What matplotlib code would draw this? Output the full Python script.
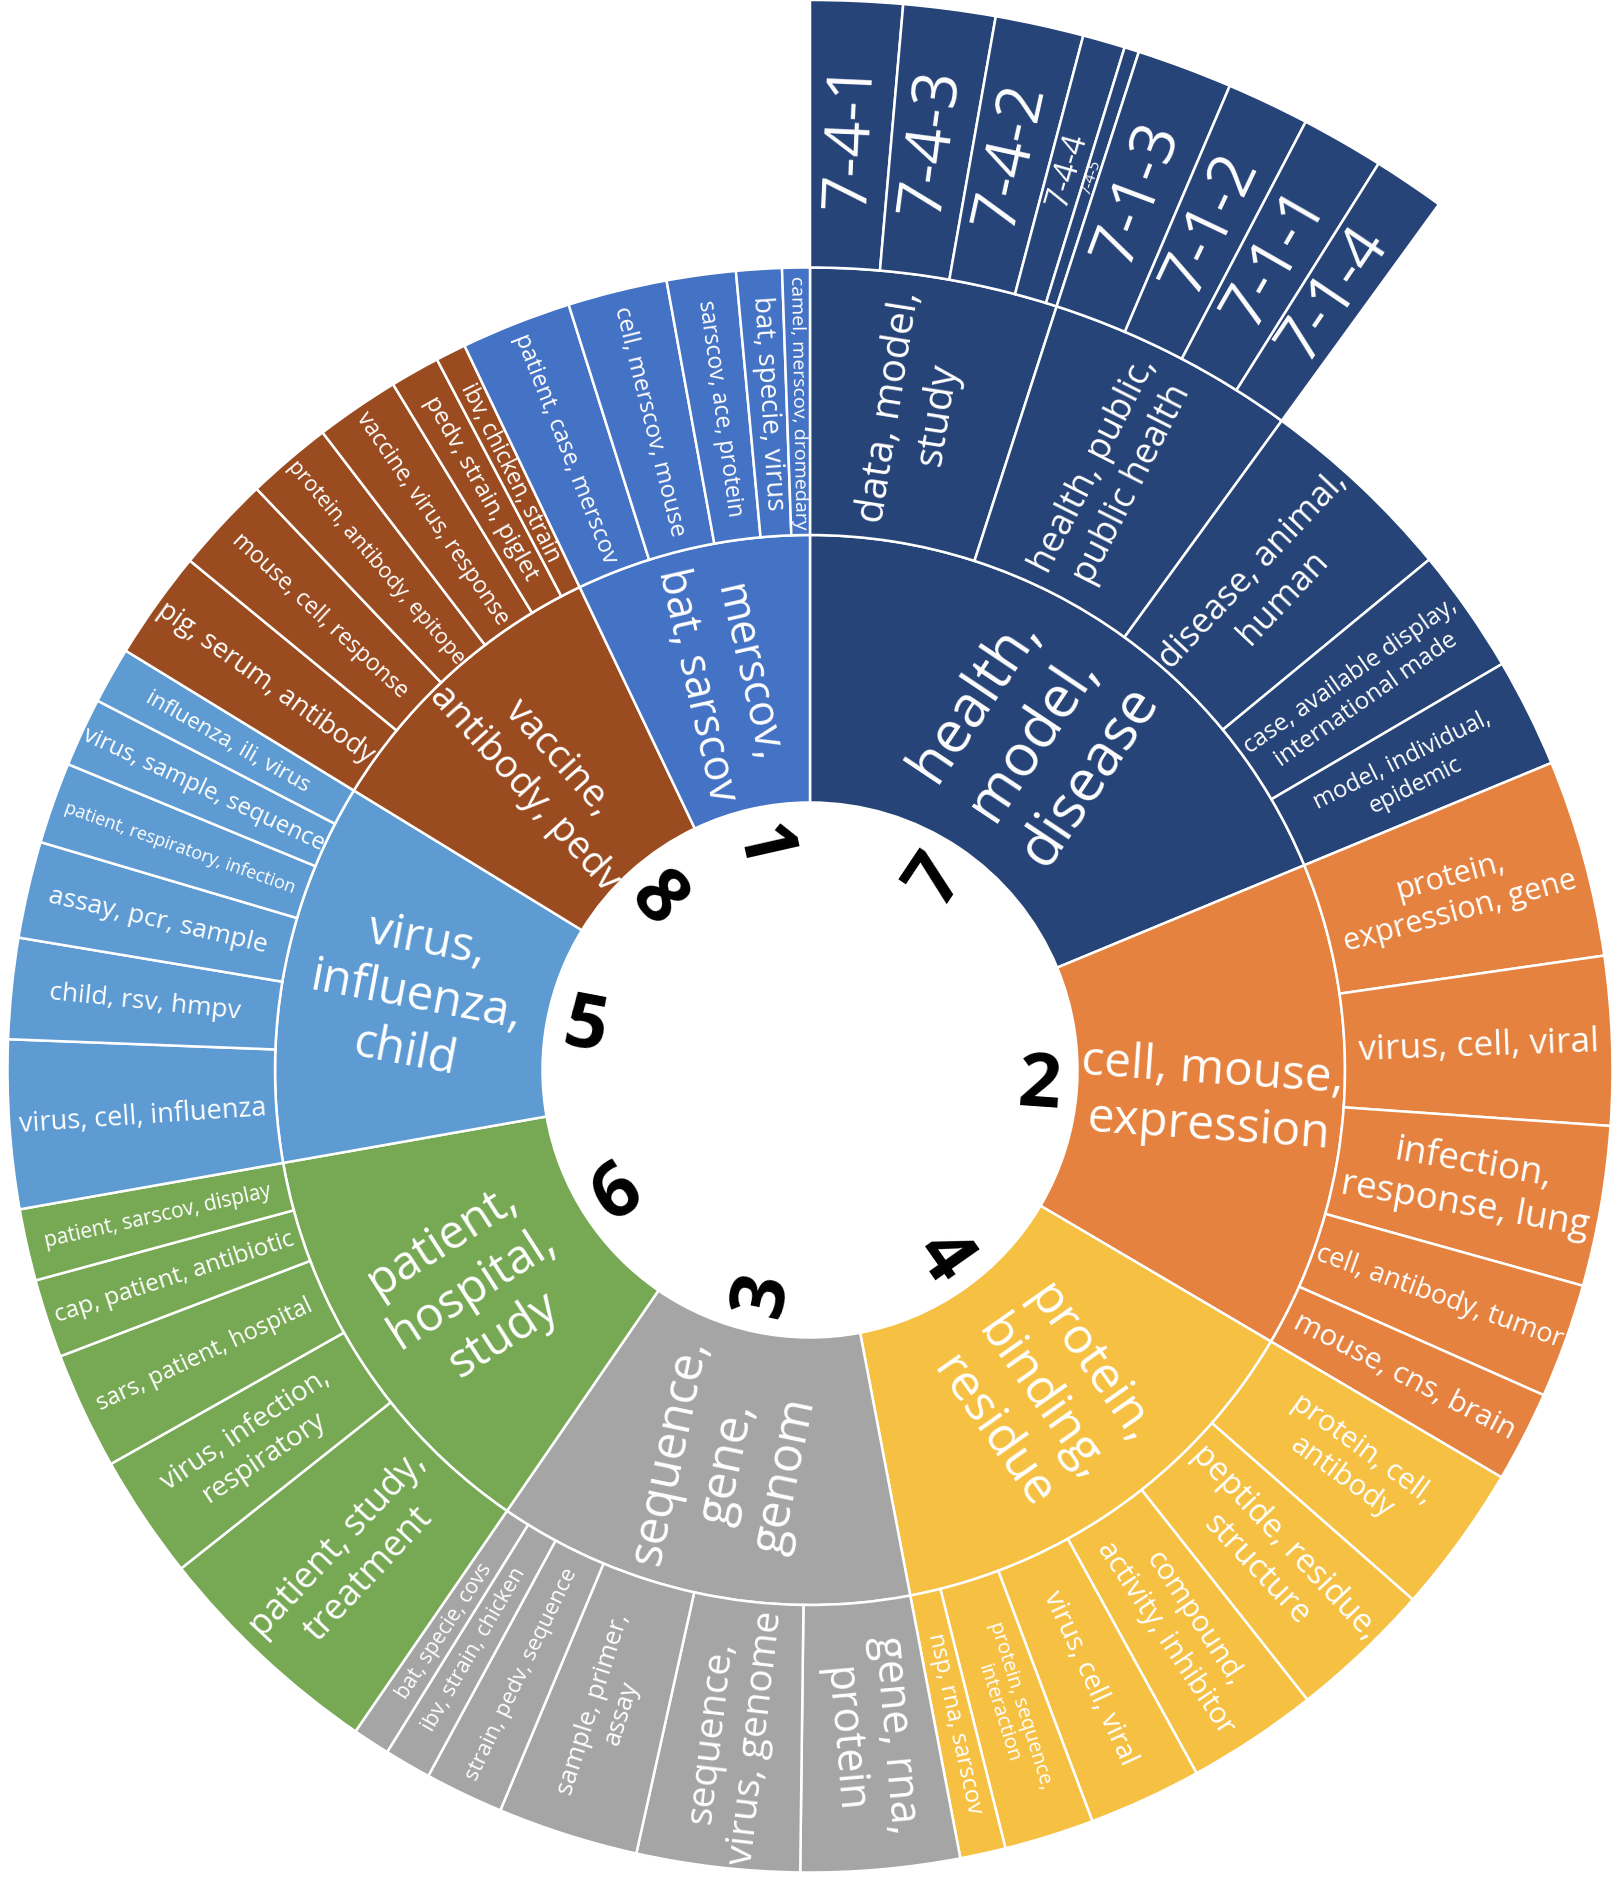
"""Sunburst of COVID topic clusters (level 1 = cluster, level 2 = topic, level 3 = sub-topic)."""
import matplotlib
matplotlib.use("Agg")
import matplotlib.pyplot as plt
from matplotlib.patches import Wedge
import numpy as np

plt.rcParams["font.family"] = ["Open Sans", "DejaVu Sans"]

# ---- data (values are share of documents, clockwise from 12 o'clock) ----
cluster_ids = ["7", "2", "4", "3", "6", "5", "8", "1"]
cluster_labels = ["health,\nmodel,\ndisease", "cell, mouse,\nexpression",
                  "protein,\nbinding,\nresidue", "sequence,\ngene,\ngenom",
                  "patient,\nhospital,\nstudy", "virus,\ninfluenza,\nchild",
                  "vaccine,\nantibody, pedv", "merscov,\nbat, sarscov"]

topics_7 = ["data, model,\nstudy", "health, public,\npublic health", "disease, animal,\nhuman",
            "case, available display,\ninternational made", "model, individual,\nepidemic"]
sizes_7 = [17.9, 18.1, 14.5, 9.1, 7.9]

topics_2 = ["protein,\nexpression, gene", "virus, cell, viral", "infection,\nresponse, lung",
            "cell, antibody, tumor", "mouse, cns, brain"]
sizes_2 = [14.3, 12.2, 11.6, 8.3, 6.6]

topics_4 = ["protein, cell,\nantibody", "peptide, residue,\nstructure", "compound,\nactivity, inhibitor",
            "virus, cell, viral", "protein, sequence,\ninteraction", "nsp, rna, sarscov"]
sizes_4 = [10.8, 10.4, 9.5, 8.2, 6.5, 3.3]

topics_3 = ["gene, rna,\nprotein", "sequence,\nvirus, genome", "sample, primer,\nassay",
            "strain, pedv, sequence", "ibv, strain, chicken", "bat, specie, covs"]
sizes_3 = [11.5, 11.8, 10.2, 5.7, 3.4, 2.7]

topics_6 = ["patient, study,\ntreatment", "virus, infection,\nrespiratory", "sars, patient, hospital",
            "cap, patient, antibiotic", "patient, sarscov, display"]
sizes_6 = [17.1, 9.0, 8.5, 5.7, 5.2]

topics_5 = ["virus, cell, influenza", "child, rsv, hmpv", "assay, pcr, sample",
            "patient, respiratory, infection", "virus, sample, sequence", "influenza, ili, virus"]
sizes_5 = [12.2, 7.3, 7.0, 5.9, 5.0, 4.1]

topics_8 = ["pig, serum, antibody", "mouse, cell, response", "protein, antibody, epitope",
            "vaccine, virus, response", "pedv, strain, piglet", "ibv, chicken, strain"]
sizes_8 = [7.9, 7.0, 6.2, 6.1, 3.6, 2.2]

topics_1 = ["patient, case, merscov", "cell, merscov, mouse", "sarscov, ace, protein",
            "bat, specie, virus", "camel, merscov, dromedary"]
sizes_1 = [8.0, 7.2, 5.0, 3.3, 2.0]

# level 3 exists only under the first two topics of cluster 7
sub_7_4 = ["7-4-1", "7-4-3", "7-4-2", "7-4-4", "7-4-5"]
sub_sizes_7_4 = [5.0, 5.0, 4.8, 2.3, 0.8]
sub_7_1 = ["7-1-3", "7-1-2", "7-1-1", "7-1-4"]
sub_sizes_7_1 = [5.2, 4.5, 4.5, 3.9]

# ---- style ----
colors = {"7": "#264478", "2": "#E5823F", "4": "#F6C143", "3": "#A5A5A5",
          "6": "#77A955", "5": "#5E9BD3", "8": "#9A4B1F", "1": "#4472C4"}
fs_cluster = {"7": 42, "2": 34.5, "4": 36, "3": 35, "6": 34, "5": 34, "8": 27.5, "1": 31}
fs_topics = {"7": [29, 26, 25, 17.5, 17],
             "2": [22, 25.5, 26.5, 19.5, 21.5],
             "4": [21, 23.5, 21, 20, 14.5, 17],
             "3": [31, 28, 18.5, 16, 15.5, 15],
             "6": [26, 20, 17, 17.5, 15],
             "5": [19.5, 19, 19, 13, 17, 16],
             "8": [19.5, 16.5, 15.5, 16.5, 17.5, 16.5],
             "1": [17, 17.5, 16.5, 20, 14]}
fs_sub_7_4 = [45, 45, 45, 23, 11]
fs_sub_7_1 = [45, 45, 45, 45]

topics = {"7": topics_7, "2": topics_2, "4": topics_4, "3": topics_3,
          "6": topics_6, "5": topics_5, "8": topics_8, "1": topics_1}
sizes = {"7": sizes_7, "2": sizes_2, "4": sizes_4, "3": sizes_3,
         "6": sizes_6, "5": sizes_5, "8": sizes_8, "1": sizes_1}

W, H = 1618, 1881
CX, CY = 810, 810          # centre in pixel units (y up)
RING = 267.5
R = [RING * k for k in range(5)]   # 0, hole, lvl1, lvl2, lvl3
EDGE = dict(edgecolor="white", linewidth=1.8)

fig = plt.figure(figsize=(W / 100, H / 100), dpi=100)
ax = fig.add_axes([0, 0, 1, 1])
ax.set_xlim(0, W)
ax.set_ylim(0, H)
ax.set_aspect("equal")
ax.axis("off")

total = sum(sum(v) for v in sizes.values())
to_deg = 360.0 / total


def label(mid, r, text, fs, color="white", weight="normal"):
    # radial text, flipped so it never reads upside down
    rot = 90 - mid
    while rot <= -90:
        rot += 180
    while rot > 90:
        rot -= 180
    x = CX + r * np.sin(np.radians(mid))
    y = CY + r * np.cos(np.radians(mid))
    ax.text(x, y, text, fontsize=fs, color=color, weight=weight, rotation=rot,
            rotation_mode="anchor", ha="center", va="center",
            multialignment="center", linespacing=1.25)


def seg(a0, a1, level, color, text, fs):
    """One ring segment between clockwise angles a0..a1 (deg from north)."""
    ax.add_patch(Wedge((CX, CY), R[level + 1], 90 - a1, 90 - a0,
                       width=RING, facecolor=color, **EDGE))
    label(0.5 * (a0 + a1), R[level] + RING / 2, text, fs)


a = 0.0
for cid, clabel in zip(cluster_ids, cluster_labels):
    span = sum(sizes[cid]) * to_deg
    col = colors[cid]
    seg(a, a + span, 1, col, clabel, fs_cluster[cid])
    label(a + span / 2, 229, cid, 54, color="black", weight="bold")
    b = a
    for i, (t, v) in enumerate(zip(topics[cid], sizes[cid])):
        tspan = v * to_deg
        seg(b, b + tspan, 2, col, t, fs_topics[cid][i])
        if cid == "7" and i in (0, 1):
            names = sub_7_4 if i == 0 else sub_7_1
            vals = sub_sizes_7_4 if i == 0 else sub_sizes_7_1
            fss = fs_sub_7_4 if i == 0 else fs_sub_7_1
            c = b
            for n, sv, f in zip(names, vals, fss):
                s = sv * to_deg
                seg(c, c + s, 3, col, n, f)
                c += s
        b += tspan
    a += span

fig.savefig("out.png", dpi=100, facecolor="white")
